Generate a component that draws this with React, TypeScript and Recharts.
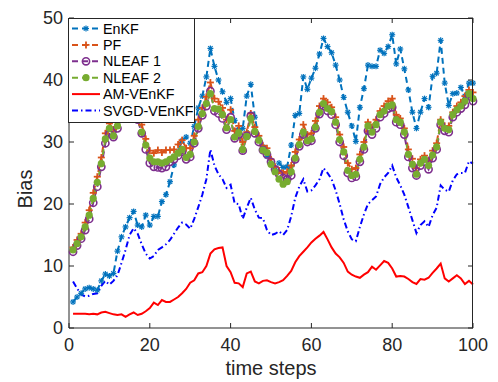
import React from 'react'
import { Label, Legend, Line, LineChart, XAxis, YAxis } from 'recharts'

// Bias per time step (t = 1..100)
const enkf = [
  4.2, 5.0, 5.6, 6.3, 6.5, 6.3, 6.1, 7.6, 8.7, 8.4,
  8.8, 12.4, 14.7, 16.3, 17.8, 18.8, 16.6, 16.3, 18.2, 16.6,
  18.0, 18.0, 20.4, 21.5, 23.6, 26.3, 28.5, 30.2, 30.8, 29.8,
  32.5, 35.5, 37.4, 40.5, 45.1, 42.2, 40.0, 38.1, 36.4, 37.0,
  33.5, 31.9, 32.2, 37.4, 39.3, 34.0, 30.5, 29.2, 27.7, 26.6,
  25.5, 26.6, 25.9, 26.0, 29.5, 34.3, 34.6, 40.5, 38.5, 40.3,
  41.9, 44.2, 46.7, 45.4, 44.4, 42.4, 40.0, 37.2, 34.8, 32.6,
  30.1, 35.6, 38.6, 42.4, 42.2, 42.2, 44.8, 44.3, 45.4, 47.3,
  42.6, 45.0, 41.8, 38.4, 34.8, 32.2, 34.8, 37.0, 35.6, 40.6,
  41.1, 46.4, 39.5, 35.9, 37.8, 37.9, 38.8, 37.4, 39.5, 39.5,
]
const pf = [
  13.0, 14.2, 15.2, 17.0, 19.0, 21.8, 24.4, 27.5, 31.4, 33.0,
  32.0, 33.5, 35.5, 36.3, 35.5, 36.0, 35.0, 32.8, 30.5, 28.6,
  28.2, 28.7, 28.3, 28.7, 28.7, 28.8, 29.6, 30.3, 29.0, 29.0,
  31.0, 33.6, 35.5, 37.3, 39.6, 37.0, 36.5, 35.5, 33.6, 35.2,
  31.8, 32.6, 30.0, 31.6, 34.6, 32.4, 31.0, 29.4, 29.0, 27.2,
  26.0, 25.4, 25.0, 25.2, 26.2, 28.4, 30.4, 32.8, 31.2, 31.4,
  33.4, 35.8, 37.0, 36.4, 35.6, 34.0, 31.2, 29.2, 26.6, 25.6,
  25.8, 28.0, 30.0, 33.2, 32.4, 33.6, 35.0, 35.8, 36.6, 37.0,
  34.4, 33.8, 32.2, 28.8, 27.3, 25.8, 27.2, 27.8, 27.0, 28.6,
  29.8, 33.6, 32.6, 32.6, 34.8, 35.8, 36.4, 37.4, 38.4, 38.0,
]
const nleaf1 = [
  12.3, 13.3, 14.4, 15.8, 17.6, 20.2, 22.8, 26.0, 29.8, 31.3,
  30.8, 32.2, 34.0, 35.0, 34.0, 34.5, 33.6, 31.4, 28.8, 26.6,
  26.0, 25.9, 25.8, 26.0, 26.8, 27.2, 27.8, 28.4, 27.2, 27.6,
  29.8, 32.2, 34.3, 35.8, 38.2, 35.0, 34.6, 33.8, 32.0, 34.0,
  30.6, 31.2, 28.6, 31.0, 34.2, 31.4, 30.0, 28.7, 28.0, 26.8,
  25.6, 24.8, 24.2, 24.0, 24.6, 27.2, 29.3, 31.2, 30.0, 30.2,
  32.2, 34.5, 35.8, 35.0, 34.4, 32.8, 30.0, 27.8, 25.0, 24.2,
  24.4, 26.8, 28.8, 31.8, 31.2, 32.2, 34.0, 34.6, 35.4, 35.6,
  33.2, 32.8, 31.2, 27.6, 25.8, 24.6, 26.2, 26.8, 25.6, 27.4,
  28.8, 32.8, 31.8, 31.6, 34.0, 34.8, 35.4, 36.0, 37.4, 36.6,
]
const nleaf2 = [
  12.6, 13.6, 14.7, 16.3, 18.2, 20.9, 23.5, 26.5, 30.5, 32.2,
  31.0, 32.6, 34.5, 35.5, 34.5, 35.0, 34.0, 31.6, 29.5, 27.4,
  26.8, 26.8, 26.6, 26.8, 27.2, 27.6, 28.2, 28.8, 27.5, 28.0,
  30.0, 32.5, 34.6, 36.2, 37.8, 35.4, 35.3, 34.4, 32.3, 33.6,
  30.8, 31.5, 28.8, 30.9, 33.8, 31.7, 30.3, 28.7, 28.3, 26.4,
  25.2, 24.0, 23.2, 23.6, 25.2, 27.4, 29.6, 31.6, 30.2, 30.5,
  32.4, 34.8, 36.2, 35.4, 34.9, 33.2, 30.4, 28.4, 25.4, 24.6,
  24.8, 27.2, 29.2, 32.6, 31.6, 32.8, 34.4, 35.0, 35.8, 36.0,
  33.6, 33.2, 31.6, 28.0, 26.4, 24.8, 26.6, 27.2, 26.2, 27.9,
  29.2, 33.2, 32.2, 32.0, 34.4, 35.2, 35.8, 36.6, 37.8, 37.0,
]
const amVEnKF = [
  2.3, 2.3, 2.3, 2.3, 2.2, 2.3, 2.2, 2.5, 2.6, 2.4,
  2.2, 2.1, 2.2, 1.8, 2.2, 2.5, 2.1, 2.3, 2.7, 3.2,
  4.1, 3.7, 4.5, 4.2, 4.2, 4.6, 5.0, 5.6, 6.3, 7.3,
  7.7, 8.8, 9.0, 10.0, 12.0, 12.7, 12.9, 13.0, 10.0, 9.0,
  7.3, 7.2, 6.6, 8.8, 9.1, 7.5, 7.2, 7.6, 7.7, 7.4,
  7.2, 7.4, 7.7, 8.4, 9.2, 10.6, 11.6, 12.3, 13.0, 13.8,
  14.4, 14.9, 15.5, 14.3, 13.0, 12.0, 11.4, 10.5, 9.1, 8.6,
  8.3, 8.1, 8.6, 9.0, 9.9, 9.4, 10.1, 10.8, 10.5, 9.6,
  8.3, 8.4, 8.3, 7.9, 7.4, 7.1, 7.9, 7.8, 8.1, 8.9,
  9.6, 10.4, 8.0, 7.5, 8.0, 8.5, 8.0, 7.1, 7.6, 7.0,
]
const svgdVEnKF = [
  7.5, 6.4, 5.4, 5.1, 5.2, 5.5, 5.6, 6.8, 7.6, 7.0,
  7.6, 8.5, 10.5, 12.6, 15.0, 16.1, 15.2, 13.5, 12.0, 11.2,
  11.6, 12.6, 13.0, 13.5, 14.2, 15.2, 16.2, 17.0, 16.7, 16.0,
  17.6, 19.5, 21.5, 24.0, 28.8, 26.2, 24.8, 24.0, 22.6, 23.1,
  20.1, 20.0, 17.6, 19.4, 21.0, 19.1, 17.8, 17.7, 15.8, 15.0,
  15.2, 15.6, 15.0, 15.8, 18.0, 21.0, 22.8, 24.0, 22.0, 22.2,
  23.0, 24.0, 25.8, 25.0, 24.0, 22.2, 20.0, 17.5, 15.6, 14.3,
  14.0, 16.3, 18.3, 20.0, 20.6, 21.2, 23.2, 24.3, 25.0, 26.2,
  24.3, 23.0, 21.5, 19.5, 17.4, 15.3, 16.6, 17.2, 16.3, 18.2,
  19.4, 23.0, 22.3, 22.0, 23.8, 24.8, 25.0, 25.0, 26.9, 26.5,
]
const steps = enkf.map((_, i) => i + 1)

const X_TICKS = [0, 20, 40, 60, 80, 100]
const Y_TICKS = [0, 10, 20, 30, 40, 50]
const X_MAX = 100
const Y_MAX = 50

const data = steps.map((t, i) => ({
  t,
  enkf: enkf[i],
  pf: pf[i],
  nleaf1: nleaf1[i],
  nleaf2: nleaf2[i],
  am: amVEnKF[i],
  svgd: svgdVEnKF[i],
}))

const AXIS = '#262626'
const FONT = '"Liberation Sans", Arial, Helvetica, sans-serif'
const C_ENKF = '#0072BD'
const C_PF = '#D95319'
const C_N1 = '#7E2F8E'
const C_N2 = '#77AC30'
const C_AM = '#FF0000'
const C_SVGD = '#0000FF'
const DASH = '6 4'
const DASH_DOT = '6 3 1.5 3'

// chart box
const W = 498
const H = 382
const M_TOP = 18
const M_RIGHT = 25
const Y_AXIS_W = 69
const X_AXIS_H = 54
const TICK_LEN = 5

type MarkerKind = 'star' | 'plus' | 'circle' | 'dot' | 'none'

function Marker({ kind, cx, cy, color }: { kind: MarkerKind; cx: number; cy: number; color: string }) {
  if (kind === 'star') {
    const r = 3
    const d = 2.2
    return (
      <g stroke={color} strokeWidth={1.2}>
        <line x1={cx - r} y1={cy} x2={cx + r} y2={cy} />
        <line x1={cx} y1={cy - r} x2={cx} y2={cy + r} />
        <line x1={cx - d} y1={cy - d} x2={cx + d} y2={cy + d} />
        <line x1={cx - d} y1={cy + d} x2={cx + d} y2={cy - d} />
      </g>
    )
  }
  if (kind === 'plus') {
    const r = 3.5
    return (
      <g stroke={color} strokeWidth={1.8}>
        <line x1={cx - r} y1={cy} x2={cx + r} y2={cy} />
        <line x1={cx} y1={cy - r} x2={cx} y2={cy + r} />
      </g>
    )
  }
  if (kind === 'circle') return <circle cx={cx} cy={cy} r={3.6} fill="none" stroke={color} strokeWidth={1.6} />
  if (kind === 'dot') return <circle cx={cx} cy={cy} r={3.6} fill={color} stroke="none" />
  return null
}

const dotRenderer = (kind: MarkerKind, color: string) => (p: any) => {
  const { cx, cy, index } = p
  if (cx == null || cy == null) return <g key={index} />
  return (
    <g key={index}>
      <Marker kind={kind} cx={cx} cy={cy} color={color} />
    </g>
  )
}

// top and right edges of the box with mirrored inward ticks (MATLAB "box on"),
// laid over the chart as a separate svg
function BoxOverlay() {
  const left = Y_AXIS_W
  const right = W - M_RIGHT
  const top = M_TOP
  const bottom = H - X_AXIS_H
  const pw = right - left
  const ph = bottom - top
  return (
    <svg
      width={W}
      height={H}
      style={{ position: 'absolute', left: 0, top: 0, pointerEvents: 'none', zIndex: 2 }}
    >
      <line x1={left} y1={top + 0.5} x2={right} y2={top + 0.5} stroke={AXIS} strokeWidth={1} />
      <line x1={right - 0.5} y1={top} x2={right - 0.5} y2={bottom} stroke={AXIS} strokeWidth={1} />
      {X_TICKS.map((v) => {
        const x = left + (v / X_MAX) * pw
        return <line key={`tx${v}`} x1={x} y1={top} x2={x} y2={top + TICK_LEN} stroke={AXIS} />
      })}
      {Y_TICKS.map((v) => {
        const y = top + (1 - v / Y_MAX) * ph
        return <line key={`ty${v}`} x1={right} y1={y} x2={right - TICK_LEN} y2={y} stroke={AXIS} />
      })}
    </svg>
  )
}

const LEGEND_ITEMS: { name: string; color: string; dash?: string; marker: MarkerKind }[] = [
  { name: 'EnKF', color: C_ENKF, dash: DASH, marker: 'star' },
  { name: 'PF', color: C_PF, dash: DASH, marker: 'plus' },
  { name: 'NLEAF 1', color: C_N1, dash: DASH, marker: 'circle' },
  { name: 'NLEAF 2', color: C_N2, dash: DASH, marker: 'dot' },
  { name: 'AM-VEnKF', color: C_AM, marker: 'none' },
  { name: 'SVGD-VEnKF', color: C_SVGD, dash: DASH_DOT, marker: 'none' },
]

function LegendBox() {
  const w = 127
  const h = 105
  return (
    <div style={{ width: w, height: h, background: '#fff', border: `1px solid ${AXIS}`, boxSizing: 'border-box' }}>
      <svg width={w - 2} height={h - 2} style={{ display: 'block' }}>
        {LEGEND_ITEMS.map((it, i) => {
          const y = 9.5 + i * 16.4
          return (
            <g key={it.name}>
              <line x1={3} x2={31} y1={y} y2={y} stroke={it.color} strokeWidth={2} strokeDasharray={it.dash} />
              <Marker kind={it.marker} cx={17} cy={y} color={it.color} />
              <text x={34} y={y} dy="0.36em" fontSize={14.3} fontFamily={FONT} fill="#000">
                {it.name}
              </text>
            </g>
          )
        })}
      </svg>
    </div>
  )
}

const tickStyle = { fill: AXIS, fontSize: 18, fontFamily: FONT }

export default function App() {
  return (
    <div style={{ position: 'absolute', left: 0, top: 0, width: W, height: H, background: '#fff' }}>
      <LineChart width={W} height={H} data={data} margin={{ top: M_TOP, right: M_RIGHT, bottom: 0, left: 0 }}>
        <XAxis
          dataKey="t"
          type="number"
          domain={[0, X_MAX]}
          ticks={X_TICKS}
          interval={0}
          height={X_AXIS_H}
          tickSize={-TICK_LEN}
          tickMargin={15}
          stroke={AXIS}
          tick={tickStyle}
        >
          <Label value="time steps" position="insideBottom" offset={7} style={{ fill: AXIS, fontSize: 20, fontFamily: FONT }} />
        </XAxis>
        <YAxis
          type="number"
          domain={[0, Y_MAX]}
          ticks={Y_TICKS}
          interval={0}
          width={Y_AXIS_W}
          tickSize={-TICK_LEN}
          tickMargin={11}
          stroke={AXIS}
          tick={tickStyle}
        >
          <Label
            content={(p: any) => {
              const vb = p.viewBox || { x: 0, y: M_TOP, width: Y_AXIS_W, height: H - M_TOP - X_AXIS_H }
              const x = vb.x + 25
              const y = vb.y + vb.height / 2 + 16
              return (
                <text
                  x={x}
                  y={y}
                  transform={`rotate(-90 ${x} ${y})`}
                  textAnchor="middle"
                  dy="0.36em"
                  fontSize={20}
                  fontFamily={FONT}
                  fill={AXIS}
                >
                  Bias
                </text>
              )
            }}
          />
        </YAxis>
        <Legend
          content={<LegendBox />}
          layout="vertical"
          align="center"
          verticalAlign="middle"
          wrapperStyle={{ left: 68, top: 18, width: 127, height: 105, zIndex: 3 }}
        />
        <Line
          dataKey="enkf"
          name="EnKF"
          stroke={C_ENKF}
          strokeWidth={2}
          strokeDasharray={DASH}
          dot={dotRenderer('star', C_ENKF)}
          activeDot={false}
          isAnimationActive={false}
        />
        <Line
          dataKey="pf"
          name="PF"
          stroke={C_PF}
          strokeWidth={2}
          strokeDasharray={DASH}
          dot={dotRenderer('plus', C_PF)}
          activeDot={false}
          isAnimationActive={false}
        />
        <Line
          dataKey="nleaf1"
          name="NLEAF 1"
          stroke={C_N1}
          strokeWidth={2}
          strokeDasharray={DASH}
          dot={dotRenderer('circle', C_N1)}
          activeDot={false}
          isAnimationActive={false}
        />
        <Line
          dataKey="nleaf2"
          name="NLEAF 2"
          stroke={C_N2}
          strokeWidth={2}
          strokeDasharray={DASH}
          dot={dotRenderer('dot', C_N2)}
          activeDot={false}
          isAnimationActive={false}
        />
        <Line
          dataKey="am"
          name="AM-VEnKF"
          stroke={C_AM}
          strokeWidth={2}
          dot={false}
          activeDot={false}
          isAnimationActive={false}
        />
        <Line
          dataKey="svgd"
          name="SVGD-VEnKF"
          stroke={C_SVGD}
          strokeWidth={2}
          strokeDasharray={DASH_DOT}
          dot={false}
          activeDot={false}
          isAnimationActive={false}
        />
      </LineChart>
      <BoxOverlay />
    </div>
  )
}
